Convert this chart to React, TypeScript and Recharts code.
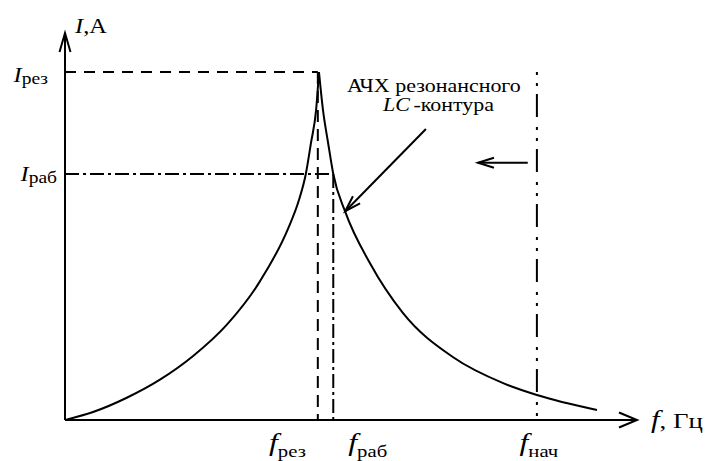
import { LineChart, Line, XAxis, YAxis, ReferenceLine, ReferenceDot } from 'recharts';

// left branch of the resonance curve (rising up to the peak)
const leftF = [0, 4.9, 10.8, 16.6, 22.4, 28.3, 34.1, 39.0, 40.9, 42.1, 43.0, 43.9, 44.4];
const leftI = [0, 0.023, 0.064, 0.116, 0.184, 0.274, 0.399, 0.55, 0.632, 0.707, 0.796, 0.891, 1.0];
// right branch (falling after the peak)
const rightF = [44.4, 45.1, 46.0, 46.9, 49.0, 53.3, 59.1, 67.8, 76.6, 82.5, 93.0];
const rightI = [1.0, 0.891, 0.796, 0.707, 0.598, 0.451, 0.307, 0.181, 0.106, 0.072, 0.029];

const fRez = 44.2;
const fRab = 46.9;
const fNach = 82.5;
const iRez = 1;
const iRab = 0.707;
const xMax = 100;
const yMax = 1.112;

const xTicks = [fRez, fRab, fNach];
const xTickSubs = ['рез', 'раб', 'нач'];
const yTicks = [iRab, iRez];
const yTickSubs = ['раб', 'рез'];

const noteLine1 = 'АЧХ резонансного';
const noteLine2 = ['LC', '-контура'];
const notePos = [64.5, 0.943];
const notePos2 = [65.3, 0.888];
const pointerFrom = [63.1, 0.836];
const pointerTo = [49.0, 0.6];
const shiftFrom = [80.9, 0.739];
const shiftTo = [72.2, 0.739];

const leftData = leftF.map((f, i) => ({ f, I: leftI[i] }));
const rightData = rightF.map((f, i) => ({ f, I: rightI[i] }));

const SERIF = '"Liberation Serif", "Times New Roman", serif';
const SX = 1.22;

function Stretched({ x, y, anchor = 'start', children }: any) {
  return (
    <g transform={`translate(${x},${y}) scale(${SX},1)`}>
      <text x={0} y={0} textAnchor={anchor} fontFamily={SERIF} fill="#000">
        {children}
      </text>
    </g>
  );
}

const xTickStyle = [
  { anchor: 'end', dx: -12 },
  { anchor: 'start', dx: 15 },
  { anchor: 'middle', dx: 2 },
];

function XTick({ x, y, payload }: any) {
  const i = xTicks.indexOf(payload.value);
  if (i < 0) return null;
  const s = xTickStyle[i];
  return (
    <Stretched x={x + s.dx} y={y + 31} anchor={s.anchor}>
      <tspan fontStyle="italic" fontSize={26}>f</tspan>
      <tspan fontSize={17} dy={6}>{xTickSubs[i]}</tspan>
    </Stretched>
  );
}

const yTickStyle = [
  { dx: -8, dy: 7 },
  { dx: -17, dy: 10 },
];

function YTick({ x, y, payload }: any) {
  const i = yTicks.indexOf(payload.value);
  if (i < 0) return null;
  const s = yTickStyle[i];
  return (
    <Stretched x={x + s.dx} y={y + s.dy} anchor="end">
      <tspan fontStyle="italic" fontSize={20}>I</tspan>
      <tspan fontSize={16} dy={2}>{yTickSubs[i]}</tspan>
    </Stretched>
  );
}

const lineWith = (marker?: string, dash?: string) => (p: any) => (
  <line
    x1={p.x1}
    y1={p.y1}
    x2={p.x2}
    y2={p.y2}
    stroke="#000"
    strokeWidth={2}
    strokeDasharray={dash}
    markerEnd={marker ? `url(#${marker})` : undefined}
  />
);

export default function App() {
  return (
    <div style={{ position: 'absolute', left: 0, top: 0, background: '#fff' }}>
      <svg width={0} height={0} style={{ position: 'absolute' }}>
        <defs>
          <marker id="headNarrow" markerUnits="userSpaceOnUse" markerWidth={30} markerHeight={30} refX={22} refY={15} orient="auto" overflow="visible">
            <path d="M 3 9.5 L 22 15 L 3 20.5" fill="none" stroke="#000" strokeWidth={2} />
          </marker>
          <marker id="headWide" markerUnits="userSpaceOnUse" markerWidth={30} markerHeight={30} refX={22} refY={15} orient="auto" overflow="visible">
            <path d="M 4 7.5 L 22 15 L 4 22.5" fill="none" stroke="#000" strokeWidth={2} />
          </marker>
          <marker id="headSmall" markerUnits="userSpaceOnUse" markerWidth={30} markerHeight={30} refX={22} refY={15} orient="auto" overflow="visible">
            <path d="M 6 10 L 22 15 L 6 20" fill="none" stroke="#000" strokeWidth={2} />
          </marker>
        </defs>
      </svg>
      <LineChart width={713} height={461} margin={{ top: 33, right: 76, bottom: 0, left: 0 }}>
        <XAxis
          type="number"
          dataKey="f"
          domain={[0, xMax]}
          ticks={xTicks}
          interval={0}
          tick={<XTick />}
          axisLine={false}
          tickLine={false}
          tickSize={0}
          tickMargin={0}
          height={41}
          allowDataOverflow
        />
        <YAxis
          type="number"
          dataKey="I"
          domain={[0, yMax]}
          ticks={yTicks}
          interval={0}
          tick={<YTick />}
          axisLine={false}
          tickLine={false}
          tickSize={0}
          tickMargin={0}
          width={65}
          allowDataOverflow
        />

        {/* guide lines */}
        <ReferenceLine ifOverflow="visible" segment={[{ x: 0, y: iRez }, { x: fRez, y: iRez }]} shape={lineWith(undefined, '11 8')} />
        <ReferenceLine ifOverflow="visible" segment={[{ x: fRez, y: iRez }, { x: fRez, y: 0 }]} shape={lineWith(undefined, '12 7')} />
        <ReferenceLine ifOverflow="visible" segment={[{ x: 0, y: iRab }, { x: fRab, y: iRab }]} shape={lineWith(undefined, '14 4 3 4')} />
        <ReferenceLine ifOverflow="visible" segment={[{ x: fRab, y: iRab }, { x: fRab, y: 0 }]} shape={lineWith(undefined, '14 4 3 4')} />
        <ReferenceLine ifOverflow="visible" segment={[{ x: fNach, y: iRez }, { x: fNach, y: 0 }]} shape={lineWith(undefined, '3 8 3 8 23 10')} />

        {/* axes with arrow heads */}
        <ReferenceLine ifOverflow="visible" segment={[{ x: 0, y: 0 }, { x: 0, y: yMax }]} shape={lineWith('headNarrow')} />
        <ReferenceLine ifOverflow="visible" segment={[{ x: 0, y: 0 }, { x: xMax, y: 0 }]} shape={lineWith('headWide')} />

        {/* pointers */}
        <ReferenceLine ifOverflow="visible" segment={[{ x: pointerFrom[0], y: pointerFrom[1] }, { x: pointerTo[0], y: pointerTo[1] }]} shape={lineWith('headSmall')} />
        <ReferenceLine ifOverflow="visible" segment={[{ x: shiftFrom[0], y: shiftFrom[1] }, { x: shiftTo[0], y: shiftTo[1] }]} shape={lineWith('headSmall')} />

        <Line data={leftData} dataKey="I" type="monotone" stroke="#000" strokeWidth={2} dot={false} isAnimationActive={false} />
        <Line data={rightData} dataKey="I" type="monotone" stroke="#000" strokeWidth={2} dot={false} isAnimationActive={false} />

        {/* text labels */}
        <ReferenceDot
          ifOverflow="visible"
          x={0}
          y={yMax}
          r={0}
          shape={(p: any) => (
            <Stretched x={p.cx + 10} y={p.cy}>
              <tspan fontStyle="italic" fontSize={20}>I</tspan>
              <tspan fontSize={20}>,А</tspan>
            </Stretched>
          )}
        />
        <ReferenceDot
          ifOverflow="visible"
          x={xMax}
          y={0}
          r={0}
          shape={(p: any) => (
            <Stretched x={p.cx + 14} y={p.cy + 8}>
              <tspan fontStyle="italic" fontSize={25}>f</tspan>
              <tspan fontSize={22}>, Гц</tspan>
            </Stretched>
          )}
        />
        <ReferenceDot
          ifOverflow="visible"
          x={notePos[0]}
          y={notePos[1]}
          r={0}
          shape={(p: any) => (
            <Stretched x={p.cx} y={p.cy} anchor="middle">
              <tspan fontSize={18}>{noteLine1}</tspan>
            </Stretched>
          )}
        />
        <ReferenceDot
          ifOverflow="visible"
          x={notePos2[0]}
          y={notePos2[1]}
          r={0}
          shape={(p: any) => (
            <Stretched x={p.cx} y={p.cy} anchor="middle">
              <tspan fontStyle="italic" fontSize={18}>{noteLine2[0]}</tspan>
              <tspan fontSize={18} dx={3}>{noteLine2[1]}</tspan>
            </Stretched>
          )}
        />
      </LineChart>
    </div>
  );
}
